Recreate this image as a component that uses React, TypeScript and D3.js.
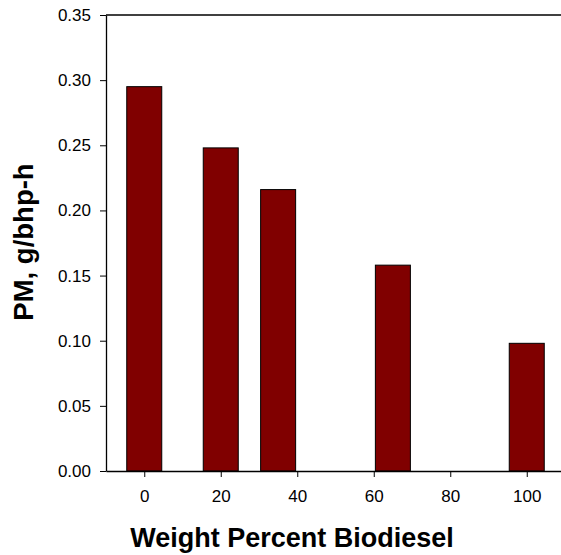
import React, { useEffect, useRef } from "react";
import * as d3 from "d3";

// weight percent biodiesel and PM emissions
const blends = [0, 20, 35, 65, 100];
const pm = [0.295, 0.248, 0.216, 0.158, 0.098];
const xTicks = [0, 20, 40, 60, 80, 100];
const yTicks = [0, 0.05, 0.1, 0.15, 0.2, 0.25, 0.3, 0.35];

const W = 561,
  H = 555;
const margin = { top: 15, right: -4, bottom: 84, left: 106 };
const font = "Arial, 'Liberation Sans', sans-serif";

export default function App() {
  const ref = useRef<SVGSVGElement>(null);

  useEffect(() => {
    const svg = d3.select(ref.current);
    svg.selectAll("*").remove();

    const x = d3
      .scaleLinear()
      .domain([-10, 110])
      .range([margin.left, W - margin.right]);
    const y = d3
      .scaleLinear()
      .domain([0, 0.35])
      .range([H - margin.bottom, margin.top]);

    const data = blends.map((b, i) => ({ b, v: pm[i] }));
    const barW = 35;

    svg
      .append("g")
      .selectAll("rect")
      .data(data)
      .join("rect")
      .attr("x", (d) => x(d.b) - barW / 2)
      .attr("y", (d) => y(d.v))
      .attr("width", barW)
      .attr("height", (d) => y(0) - y(d.v))
      .attr("fill", "#800000")
      .attr("stroke", "#000")
      .attr("stroke-width", 1);

    // frame: top line
    svg
      .append("line")
      .attr("x1", margin.left)
      .attr("x2", W)
      .attr("y1", y(0.35))
      .attr("y2", y(0.35))
      .attr("stroke", "#000")
      .attr("stroke-width", 1.3);

    const yAxis = svg
      .append("g")
      .attr("transform", `translate(${margin.left},0)`)
      .call(d3.axisLeft(y).tickValues(yTicks).tickFormat(d3.format(".2f")).tickSize(6).tickSizeOuter(0).tickPadding(9));

    const xAxis = svg
      .append("g")
      .attr("transform", `translate(0,${y(0)})`)
      .call(d3.axisBottom(x).tickValues(xTicks).tickSize(6).tickSizeOuter(0).tickPadding(13));

    [yAxis, xAxis].forEach((g) => {
      g.select(".domain").attr("stroke", "#000").attr("stroke-width", 1.3);
      g.selectAll(".tick line").attr("stroke", "#000");
      g.selectAll(".tick text")
        .attr("font-family", font)
        .attr("font-size", 17)
        .attr("fill", "#000");
    });

    svg
      .append("text")
      .attr("x", 292)
      .attr("y", 547)
      .attr("text-anchor", "middle")
      .attr("font-family", font)
      .attr("font-weight", "bold")
      .attr("font-size", 27)
      .text("Weight Percent Biodiesel");

    svg
      .append("text")
      .attr("transform", `translate(33,242) rotate(-90)`)
      .attr("text-anchor", "middle")
      .attr("font-family", font)
      .attr("font-weight", "bold")
      .attr("font-size", 27.5)
      .text("PM, g/bhp-h");
  }, []);

  return (
    <svg
      ref={ref}
      width={W}
      height={H}
      style={{ position: "absolute", left: 0, top: 0, background: "#fff" }}
    />
  );
}
